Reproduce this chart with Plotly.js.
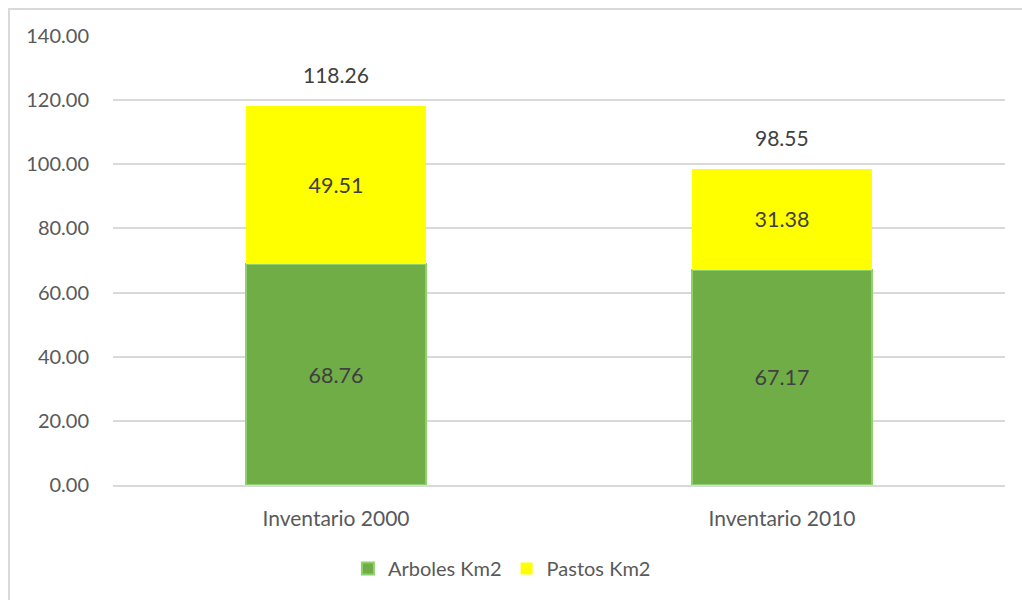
<!DOCTYPE html>
<html><head><meta charset="utf-8">
<script src="https://cdn.plot.ly/plotly-3.0.1.min.js"></script>
<style>
html,body{margin:0;padding:0;background:#fff;overflow:hidden;}
#frame{position:absolute;left:8px;top:8px;width:1030px;height:610px;border:2px solid #d9d9d9;box-sizing:border-box;pointer-events:none;z-index:5;}
#chart{position:absolute;left:0;top:0;width:1022px;height:600px;}
</style></head>
<body>
<div id="chart"></div>
<div id="frame"></div>
<script>
var categories = ["Inventario 2000", "Inventario 2010"];
var arboles = [68.76, 67.17];
var pastos = [49.51, 31.38];
var totals = [118.26, 98.55];
var tickVals = [0, 20, 40, 60, 80, 100, 120, 140];

var font = "Lato, 'Open Sans', sans-serif";
var fmt = function(v){ return v.toFixed(2); };

var traces = [
  {type:'bar', name:'Arboles Km2', x:categories, y:arboles,
   marker:{color:'#70AD47', line:{color:'#8ED16A', width:2}},
   text:arboles.map(fmt), textposition:'inside', insidetextanchor:'middle',
   textfont:{family:font, size:21.5, color:'#404040'}, width:0.405, hoverinfo:'none'},
  {type:'bar', name:'Pastos Km2', x:categories, y:pastos,
   marker:{color:'#FFFF00', line:{color:'#FFFF00', width:0}},
   text:pastos.map(fmt), textposition:'inside', insidetextanchor:'middle',
   textfont:{family:font, size:21.5, color:'#404040'}, width:0.405, hoverinfo:'none'}
];

var annotations = categories.map(function(c,i){
  return {x:c, y:totals[i], xref:'x', yref:'y', text:fmt(totals[i]), showarrow:false,
    yshift:31, font:{family:font, size:21, color:'#404040'}};
});

var layout = {
  width:1022, height:600,
  margin:{l:113, r:17, t:36, b:113},
  barmode:'stack', bargap:0.595,
  paper_bgcolor:'#fff', plot_bgcolor:'#fff',
  font:{family:font, size:20, color:'#595959'},
  xaxis:{tickfont:{family:font, size:21, color:'#595959'}, showline:true, linecolor:'#d9d9d9', linewidth:2,
    ticks:'outside', ticklen:14, tickcolor:'rgba(0,0,0,0)', automargin:false},
  yaxis:{range:[0,140], tickvals:tickVals, ticktext:tickVals.map(fmt), showgrid:true,
    gridcolor:'#d9d9d9', gridwidth:2, zeroline:false, showline:false, ticks:'outside', ticklen:19,
    tickcolor:'rgba(0,0,0,0)', tickfont:{family:font, size:20, color:'#595959'}, automargin:false},
  legend:{orientation:'h', x:0.436, xanchor:'center', y:-0.186, yanchor:'middle',
    font:{family:font, size:20, color:'#595959'}, traceorder:'normal', itemwidth:30},
  showlegend:true,
  annotations:annotations
};
Plotly.newPlot('chart', traces, layout, {displayModeBar:false, staticPlot:true});
</script>
</body></html>
